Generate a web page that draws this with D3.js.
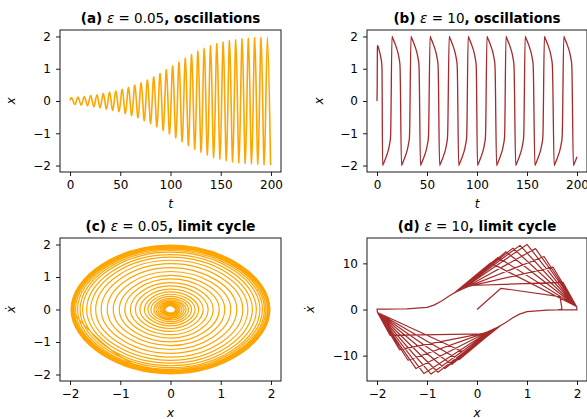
<!DOCTYPE html>
<html>
<head>
<meta charset="utf-8">
<title>Van der Pol oscillator</title>
<script src="https://d3js.org/d3.v7.min.js"></script>
<style>
  body { margin: 0; background: #fff; }
  svg text { font-family: "DejaVu Sans", sans-serif; fill: #000; }
</style>
</head>
<body>
<div id="chart"></div>
<script>
// ---- (a) eps = 0.05 : times of the turning points and x there
var aT = [0,
  1.70, 4.84, 7.98, 11.12, 14.27, 17.41, 20.55, 23.69, 26.83, 29.97,
  33.12, 36.26, 39.40, 42.54, 45.68, 48.82, 51.97, 55.11, 58.25, 61.39,
  64.53, 67.67, 70.82, 73.96, 77.10, 80.24, 83.38, 86.52, 89.66, 92.81,
  95.95, 99.09, 102.23, 105.37, 108.51, 111.66, 114.80, 117.94, 121.08, 124.22,
  127.36, 130.51, 133.65, 136.79, 139.93, 143.07, 146.21, 149.35, 152.50, 155.64,
  158.78, 161.92, 165.06, 168.20, 171.35, 174.49, 177.63, 180.77, 183.91, 187.05,
  190.20, 193.34, 196.48, 199.62];
var aX = [0.02,
  0.10, -0.11, 0.12, -0.13, 0.14, -0.15, 0.17, -0.18, 0.19, -0.21,
  0.23, -0.25, 0.27, -0.29, 0.31, -0.33, 0.36, -0.39, 0.42, -0.45,
  0.49, -0.52, 0.56, -0.61, 0.65, -0.70, 0.75, -0.80, 0.85, -0.91,
  0.97, -1.02, 1.08, -1.14, 1.20, -1.26, 1.32, -1.38, 1.44, -1.49,
  1.54, -1.59, 1.63, -1.67, 1.71, -1.75, 1.78, -1.80, 1.83, -1.85,
  1.87, -1.89, 1.90, -1.92, 1.93, -1.94, 1.95, -1.95, 1.96, -1.97,
  1.97, -1.98, 1.98, -1.98];

// ---- (c) eps = 0.05 : xdot where the spiral crosses x = 0 (between turning points)
var cStart = [0.02, 0.10];
var cV = [
  -0.105, 0.115, -0.125, 0.135, -0.145, 0.16, -0.175, 0.185, -0.20, 0.22,
  -0.24, 0.26, -0.28, 0.30, -0.32, 0.345, -0.375, 0.405, -0.435, 0.47,
  -0.505, 0.54, -0.585, 0.63, -0.675, 0.725, -0.775, 0.825, -0.88, 0.94,
  -0.995, 1.05, -1.11, 1.17, -1.23, 1.29, -1.35, 1.41, -1.465, 1.515,
  -1.565, 1.61, -1.65, 1.69, -1.73, 1.765, -1.79, 1.815, -1.84, 1.86,
  -1.88, 1.895, -1.91, 1.925, -1.935, 1.945, -1.95, 1.955, -1.965, 1.97,
  -1.975, 1.98, -1.98];

// ---- (b) eps = 10 : start, landing times of the fast jumps, slow-branch shape
var bStartT = [0, 0.2, 0.4, 0.6, 1.9, 2.8, 3.5, 4.1, 4.6, 4.87, 5.0];
var bStartX = [0, 0.48, 1.66, 1.72, 1.6, 1.5, 1.4, 1.3, 1.2, 1.1, 1.0];
var bLandT = [5.6, 15.0, 24.5, 34.0, 43.5, 53.1, 62.6, 72.2, 81.7, 91.2, 100.5,
  110.0, 119.6, 129.0, 138.7, 148.2, 157.9, 167.4, 177.2, 186.8, 196.4];
var bLandX = [-2, 2, -2, 2, -2, 2, -2, 2, -2, 2, -2, 2, -2, 2, -2, 2, -2, 2, -2, 2, -2];
var bBranchDt = [0, 0.7, 1.4, 2.75, 3.9, 5.0, 5.9, 6.6, 7.2, 7.7, 7.97, 8.1];
var bBranchX = [2.0, 1.95, 1.9, 1.8, 1.7, 1.6, 1.5, 1.4, 1.3, 1.2, 1.1, 1.0];
var bEnd = [200, -1.73];

// ---- (d) eps = 10 : phase plane, coarse samples
var dStartX = [0, 0.48, 1.66, 1.70];
var dStartV = [0, 4.6, 2.8, 0.1];
// slow branch x>0 and lower bend
var dRightX = [2.0, 1.8, 1.6, 1.4, 1.2, 1.0, 0.85, 0.7, 0.55, 0.4, 0.3, 0.2, 0.1, 0.0];
var dRightV = [-0.07, -0.08, -0.11, -0.15, -0.3, -0.45, -1.0, -1.9, -3.0, -3.9, -4.4, -4.9, -5.4, -6.6];
// slow branch x<0 and upper bend
var dLeftX = [-2.0, -1.8, -1.6, -1.4, -1.2, -1.0, -0.85, -0.7, -0.55, -0.4, -0.3, -0.2, -0.1, 0.0];
var dLeftV = [0.07, 0.08, 0.11, 0.15, 0.3, 0.45, 1.0, 1.9, 3.0, 3.9, 4.4, 4.9, 5.4, 6.6];
// downward jumps (11): last sample on the bend, one sample in the fast part
var dDnP0X = [0.46, 0.43, 0.40, 0.37, 0.34, 0.31, 0.28, 0.25, 0.21, 0.17, 0.12];
var dDnP0V = [-3.6, -3.75, -3.9, -4.05, -4.2, -4.35, -4.5, -4.65, -4.85, -5.05, -5.3];
var dDnAX = [-0.22, -0.36, -0.50, -0.64, -0.78, -0.92, -1.06, -1.22, -1.38, -1.55, -1.74];
var dDnAV = [-9.5, -10.9, -11.9, -12.8, -13.6, -14.0, -13.9, -12.8, -11.0, -8.7, -5.6];
var dDnLand = [-1.99, -0.65];
// upward jumps (10)
var dUpP0X = [-0.45, -0.42, -0.39, -0.36, -0.33, -0.30, -0.27, -0.23, -0.19, -0.14];
var dUpP0V = [3.65, 3.8, 3.95, 4.1, 4.25, 4.4, 4.55, 4.75, 4.95, 5.2];
var dUpAX = [0.27, 0.42, 0.58, 0.72, 0.86, 1.00, 1.17, 1.34, 1.52, 1.72];
var dUpAV = [10.1, 11.3, 12.5, 13.3, 13.9, 14.1, 13.2, 11.5, 9.2, 5.9];
var dUpLand = [1.99, 0.65];
var dEndX = [-2.0, -1.8, -1.73];
var dEndV = [0.07, 0.08, 0.09];

var tTicks = [0, 50, 100, 150, 200];
var xTicks = [-2, -1, 0, 1, 2];
var dvTicks = [-10, 0, 10];

// ---------------------------------------------------------------
var orange = "orange", brown = "brown";
var svg = d3.select("#chart").append("svg")
    .attr("width", 587).attr("height", 419);

var fmt = d3.format("d");

function panel(id, box, xDom, yDom, xTickVals, yTickVals, title, xLab, yLab) {
  var x = d3.scaleLinear().domain(xDom).range([box.l, box.r]);
  var y = d3.scaleLinear().domain(yDom).range([box.b, box.t]);
  var g = svg.append("g");
  g.append("clipPath").attr("id", "clip" + id)
    .append("rect").attr("x", box.l).attr("y", box.t)
    .attr("width", box.r - box.l).attr("height", box.b - box.t);

  var xa = g.append("g").attr("transform", "translate(0," + box.b + ")")
    .call(d3.axisBottom(x).tickValues(xTickVals).tickFormat(fmt).tickSize(4).tickPadding(4));
  var ya = g.append("g").attr("transform", "translate(" + box.l + ",0)")
    .call(d3.axisLeft(y).tickValues(yTickVals).tickFormat(fmt).tickSize(4).tickPadding(5));
  [xa, ya].forEach(function(a) {
    a.select(".domain").remove();
    a.selectAll("line").attr("stroke", "#000").attr("stroke-width", 0.9);
    a.selectAll("text").style("font-size", "12px").style("font-family", "DejaVu Sans");
  });

  // title
  var tt = g.append("text").attr("x", (box.l + box.r) / 2).attr("y", box.t - 7)
    .attr("text-anchor", "middle").style("font-size", "13.5px");
  tt.append("tspan").style("font-weight", "bold").text(title[0]);
  tt.append("tspan").style("font-style", "italic").text("\u03b5");
  tt.append("tspan").text(" = " + title[1]);
  tt.append("tspan").style("font-weight", "bold").text(title[2]);

  g.append("text").attr("x", (box.l + box.r) / 2).attr("y", box.b + 36)
    .attr("text-anchor", "middle").style("font-size", "12px").style("font-style", "italic")
    .text(xLab);
  g.append("text")
    .attr("transform", "translate(" + yLab[1] + "," + ((box.t + box.b) / 2) + ") rotate(-90)")
    .attr("text-anchor", "middle").style("font-size", "12px").style("font-style", "italic")
    .text(yLab[0]);

  return {x: x, y: y, g: g, box: box, clip: "url(#clip" + id + ")"};
}

function frame(p) {
  p.g.append("rect").attr("x", p.box.l).attr("y", p.box.t)
    .attr("width", p.box.r - p.box.l).attr("height", p.box.b - p.box.t)
    .attr("fill", "none").attr("stroke", "#000").attr("stroke-width", 0.9);
}

var pa = panel("a", {l: 60, r: 281, t: 30, b: 172}, [-10, 210], [-2.2, 2.2], tTicks, xTicks,
  ["(a) ", "0.05", ", oscillations"], "t", ["x", 15]);
var pb = panel("b", {l: 367, r: 587, t: 30, b: 172}, [-10, 210], [-2.2, 2.2], tTicks, xTicks,
  ["(b) ", "10", ", oscillations"], "t", ["x", 323]);
var pc = panel("c", {l: 60, r: 281, t: 238, b: 381}, [-2.2, 2.2], [-2.2, 2.2], xTicks, xTicks,
  ["(c) ", "0.05", ", limit cycle"], "x", ["\u1e8b", 15]);
var pd = panel("d", {l: 367, r: 587, t: 238, b: 381}, [-2.2, 2.2], [-15.5, 15.5], xTicks, dvTicks,
  ["(d) ", "10", ", limit cycle"], "x", ["\u1e8b", 314]);

// (a)
var aData = aT.map(function(t, i) { return [t, aX[i]]; });
pa.g.append("path").datum(aData)
  .attr("clip-path", pa.clip)
  .attr("fill", "none").attr("stroke", orange).attr("stroke-width", 1.6)
  .attr("d", d3.line().x(function(d) { return pa.x(d[0]); }).y(function(d) { return pa.y(d[1]); })
    .curve(d3.curveCardinal.tension(0)));
frame(pa);

// (b)
var bData = [];
bStartT.forEach(function(t, i) { bData.push([t, bStartX[i]]); });
bLandT.forEach(function(t0, j) {
  var s = bLandX[j] > 0 ? 1 : -1;
  for (var m = 0; m < bBranchDt.length; m++) {
    var t = t0 + bBranchDt[m];
    if (j + 1 < bLandT.length && t >= bLandT[j + 1]) break;
    if (t > bEnd[0]) break;
    bData.push([t, s * bBranchX[m]]);
  }
});
bData.push(bEnd);
pb.g.append("path").datum(bData)
  .attr("clip-path", pb.clip)
  .attr("fill", "none").attr("stroke", brown).attr("stroke-width", 1.3)
  .attr("d", d3.line().x(function(d) { return pb.x(d[0]); }).y(function(d) { return pb.y(d[1]); })
    .curve(d3.curveMonotoneX));
frame(pb);

// (c)
var cData = [cStart];
for (var k = 0; k < 64; k++) {
  cData.push([aX[k + 1], 0]);
  if (k < cV.length) cData.push([0, cV[k]]);
}
pc.g.append("path").datum(cData)
  .attr("clip-path", pc.clip)
  .attr("fill", "none").attr("stroke", orange).attr("stroke-width", 1.2)
  .attr("d", d3.line().x(function(d) { return pc.x(d[0]); }).y(function(d) { return pc.y(d[1]); })
    .curve(d3.curveCardinal.tension(-0.57)));
frame(pc);

// (d)
var dData = [];
dStartX.forEach(function(x, i) { dData.push([x, dStartV[i]]); });
for (var j = 0; j < dDnP0X.length; j++) {
  var lastX = dData[dData.length - 1][0];
  dRightX.forEach(function(x, i) {
    if ((j > 0 || x < lastX) && x > dDnP0X[j]) dData.push([x, dRightV[i]]);
  });
  dData.push([dDnP0X[j], dDnP0V[j]], [dDnAX[j], dDnAV[j]], dDnLand);
  if (j < dUpP0X.length) {
    dLeftX.forEach(function(x, i) {
      if (x < dUpP0X[j]) dData.push([x, dLeftV[i]]);
    });
    dData.push([dUpP0X[j], dUpP0V[j]], [dUpAX[j], dUpAV[j]], dUpLand);
  } else {
    dEndX.forEach(function(x, i) { dData.push([x, dEndV[i]]); });
  }
}
pd.g.append("path").datum(dData)
  .attr("clip-path", pd.clip)
  .attr("fill", "none").attr("stroke", brown).attr("stroke-width", 1.2)
  .attr("stroke-linejoin", "round")
  .attr("d", d3.line().x(function(d) { return pd.x(d[0]); }).y(function(d) { return pd.y(d[1]); }));
frame(pd);
</script>
</body>
</html>
